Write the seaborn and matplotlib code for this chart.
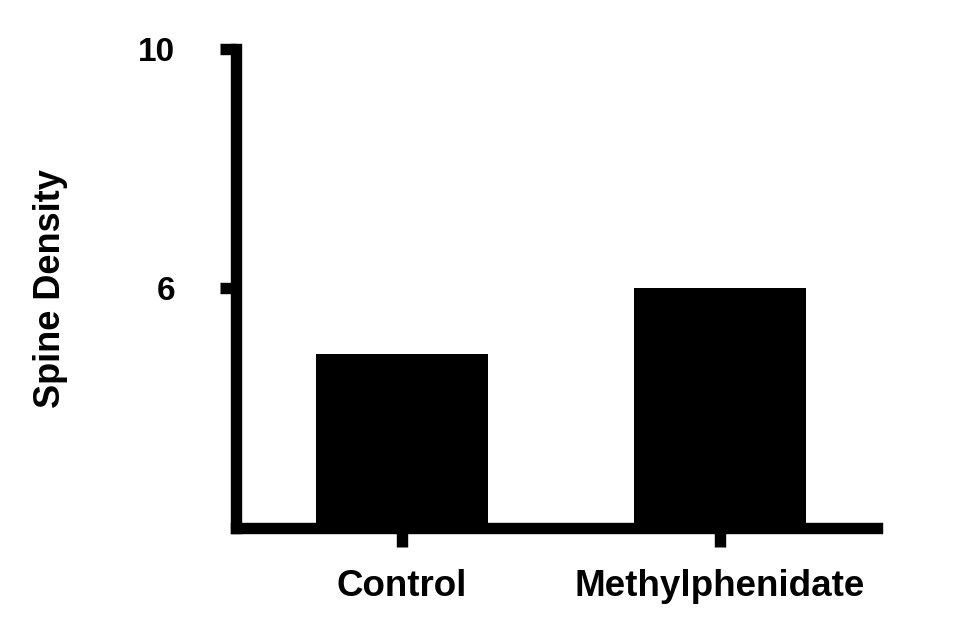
import numpy as np
import pandas as pd
import matplotlib
matplotlib.use("Agg")
import matplotlib.pyplot as plt
import seaborn as sns

# ── DATA ──────────────────────────────────────────────────
groups = ["Control", "Methylphenidate"]
spine_density = [4.9, 6.0]
y_ticks = [6, 10]

df = pd.DataFrame({"group": groups, "spine_density": spine_density})

# ── STYLE ─────────────────────────────────────────────────
sns.set_theme(style="ticks")
plt.rcParams["font.family"] = ["Liberation Sans", "DejaVu Sans"]
plt.rcParams["font.weight"] = "bold"
plt.rcParams["text.color"] = "black"
plt.rcParams["axes.labelcolor"] = "black"
plt.rcParams["xtick.labelcolor"] = "black"
plt.rcParams["ytick.labelcolor"] = "black"

lw = 8.2  # ~11 px at 100 dpi
fig = plt.figure(figsize=(9.58, 6.38), dpi=100)
ax = fig.add_axes([235.5 / 958, 1 - 527.5 / 638, (877 - 235.5) / 958, (527.5 - 49) / 638])

sns.barplot(data=df, x="group", y="spine_density", color="black", width=0.54,
            edgecolor="none", saturation=1, ax=ax)

ax.set_xlim(-0.5236, 1.4937)
ax.set_ylim(2, 10)
ax.set_yticks(y_ticks)
ax.set_yticklabels([str(t) for t in y_ticks], fontsize=24, fontweight="bold")
ax.set_xticks(range(len(groups)))
ax.set_xticklabels(groups, fontsize=26.5, fontweight="bold")

for side in ["top", "right"]:
    ax.spines[side].set_visible(False)
for side in ["left", "bottom"]:
    ax.spines[side].set_linewidth(lw)
    ax.spines[side].set_color("black")
    ax.spines[side].set_capstyle("projecting")

ax.tick_params(axis="y", length=11.5, width=lw, color="black", pad=32)
ax.tick_params(axis="x", length=14, width=lw, color="black", pad=16)

ax.set_xlabel("")
ax.set_ylabel("Spine Density", fontsize=26, fontweight="bold", va="center")
ax.yaxis.set_label_coords((51 - 235.5) / 641.5, 0.5)

plt.savefig("out.png", dpi=100)
